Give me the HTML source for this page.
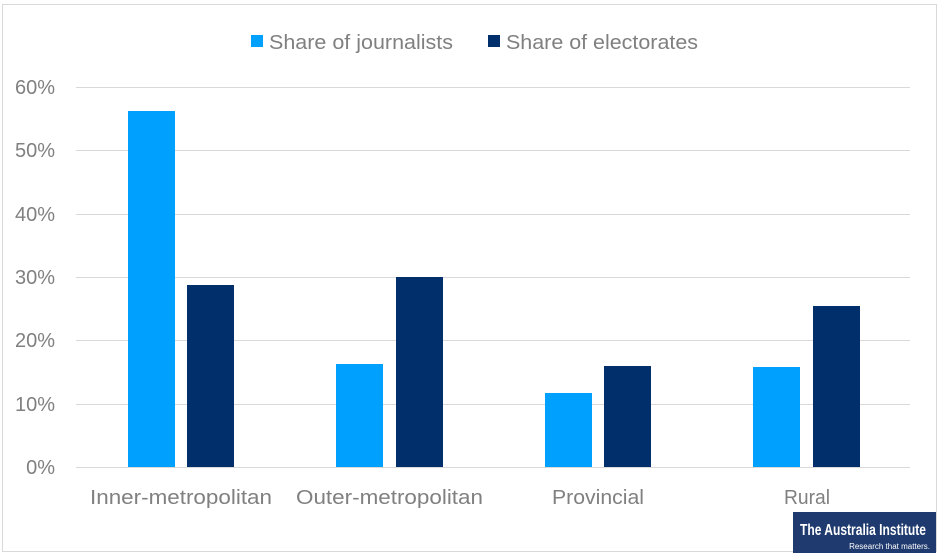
<!DOCTYPE html><html><head><style>body{margin:0;background:#fff}svg{display:block}text{font-family:"Liberation Sans",sans-serif;fill:#808080}</style></head><body>
<svg width="941" height="557" xmlns="http://www.w3.org/2000/svg">
<rect x="2.5" y="4.5" width="934" height="547" fill="#fff" stroke="#d9d9d9"/>
<g stroke="#d9d9d9" stroke-width="1">
<line x1="76" x2="910" y1="87.5" y2="87.5"/><line x1="76" x2="910" y1="150.5" y2="150.5"/><line x1="76" x2="910" y1="214.5" y2="214.5"/><line x1="76" x2="910" y1="277.5" y2="277.5"/><line x1="76" x2="910" y1="340.5" y2="340.5"/><line x1="76" x2="910" y1="404.5" y2="404.5"/><line x1="76" x2="910" y1="467.5" y2="467.5"/></g>
<g font-size="20" text-anchor="end">
<text x="55" y="94">60%</text><text x="55" y="157">50%</text><text x="55" y="221">40%</text><text x="55" y="284">30%</text><text x="55" y="347">20%</text><text x="55" y="411">10%</text><text x="55" y="474">0%</text></g>
<g fill="#00a0ff"><rect x="128" y="111" width="47" height="356"/><rect x="336" y="364" width="47" height="103"/><rect x="545" y="393" width="47" height="74"/><rect x="753" y="367" width="47" height="100"/></g>
<g fill="#002f6c"><rect x="187" y="285" width="47" height="182"/><rect x="396" y="277" width="47" height="190"/><rect x="604" y="366" width="47" height="101"/><rect x="813" y="306" width="47" height="161"/></g>
<g font-size="20">
<text x="90" y="504" textLength="182" lengthAdjust="spacingAndGlyphs">Inner-metropolitan</text><text x="296" y="504" textLength="187" lengthAdjust="spacingAndGlyphs">Outer-metropolitan</text><text x="552" y="504" textLength="92" lengthAdjust="spacingAndGlyphs">Provincial</text><text x="784" y="504" textLength="46" lengthAdjust="spacingAndGlyphs">Rural</text></g>
<rect x="251" y="35" width="12" height="12" fill="#00a0ff"/><text x="269" y="49" font-size="20" textLength="184" lengthAdjust="spacingAndGlyphs">Share of journalists</text>
<rect x="488" y="35" width="12" height="12" fill="#002f6c"/><text x="506" y="49" font-size="20" textLength="192" lengthAdjust="spacingAndGlyphs">Share of electorates</text>
<rect x="793" y="512" width="143" height="41" fill="#1f3a6e"/>
<text x="800" y="535" font-size="16" style="fill:#fff" font-weight="bold" textLength="126" lengthAdjust="spacingAndGlyphs">The Australia Institute</text>
<text x="930" y="549" font-size="8" style="fill:#fff" text-anchor="end">Research that matters.</text>
</svg></body></html>
